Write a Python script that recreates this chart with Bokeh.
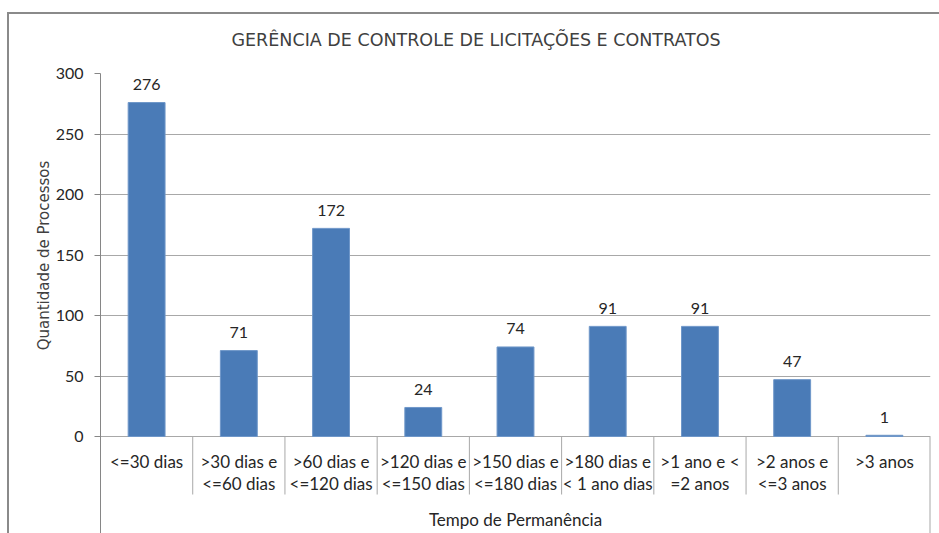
import math
from bokeh.plotting import figure
from bokeh.models import FactorRange, Range1d, FixedTicker, Label
from bokeh.core.properties import value
from bokeh.embed import file_html
from bokeh.resources import INLINE

# ---- data ----
title_text = "GERÊNCIA DE CONTROLE DE LICITAÇÕES E CONTRATOS"
y_label = "Quantidade de Processos"
x_label = "Tempo de Permanência"
label_line1 = ["<=30 dias", ">30 dias e", ">60 dias e", ">120 dias e", ">150 dias e",
               ">180 dias e", ">1 ano e <", ">2 anos e", ">3 anos"]
label_line2 = ["", "<=60 dias", "<=120 dias", "<=150 dias", "<=180 dias",
               "< 1 ano dias", "=2 anos", "<=3 anos", ""]
categories = [a + ("\u00a0" + b if b else "") for a, b in zip(label_line1, label_line2)]
values = [276, 71, 172, 24, 74, 91, 91, 47, 1]
y_ticks = [0, 50, 100, 150, 200, 250, 300]

# ---- layout constants (pixels) ----
W, H = 939, 533
frame_left, frame_right = 100, 930
frame_top, zero_px = 73, 436          # canvas y of 300 and of 0
px_per_unit = (zero_px - frame_top) / 300.0
y_bottom = -(H - zero_px) / px_per_unit

BAR = "#4a7bb7"
TXT = "#262626"
AXC = "#868686"
GRID = "#a8a8a8"
BORDER = "#8a8a8a"
SANS = "Lato"
GOTH = "DejaVu Sans"

p = figure(width=W, height=H, x_range=FactorRange(*categories, range_padding=0),
           y_range=Range1d(y_bottom, 300), x_axis_location=None,
           output_backend="svg", toolbar_location=None,
           min_border_left=frame_left, min_border_right=W - frame_right,
           min_border_top=frame_top, min_border_bottom=0)
p.outline_line_color = None
p.background_fill_color = "white"
p.border_fill_color = None
p.styles = {
    "background": (f"linear-gradient({BORDER},{BORDER}) 7px 12px / 2px 100% no-repeat, "
                   f"linear-gradient({BORDER},{BORDER}) 7px 12px / 100% 2px no-repeat, white"),
}

# title
p.title.text = title_text
p.title.align = "left"
p.title.offset = 131
p.title.standoff = 48
p.title.text_font = GOTH
p.title.text_font_size = "17.5px"
p.title.text_font_style = "normal"
p.title.text_color = "#404040"

# y axis
ya = p.yaxis[0]
ya.ticker = FixedTicker(ticks=y_ticks)
ya.axis_line_color = AXC
ya.major_tick_line_color = AXC
ya.major_tick_out = 6
ya.major_tick_in = 0
ya.minor_tick_line_color = None
ya.major_label_text_font = SANS
ya.major_label_text_font_size = "16px"
ya.major_label_text_color = TXT
ya.major_label_standoff = 11
p.xgrid.grid_line_color = None
p.ygrid.grid_line_color = GRID
p.ygrid.ticker = FixedTicker(ticks=y_ticks)

# bars
p.vbar(x=categories, top=values, width=0.4, fill_color=BAR, line_color="#6f97c9", line_width=1)

# value labels
p.text(x=categories, y=values, text=[str(v) for v in values], text_align="center",
       text_baseline="alphabetic", y_offset=-18, text_font=value(SANS),
       text_font_size="16px", text_color=TXT)

# category labels (table-like axis)
p.text(x=categories, y=[0] * len(categories), text=label_line1, text_align="center",
       text_baseline="middle", y_offset=25, text_font=value(SANS),
       text_font_size="17px", text_color=TXT)
p.text(x=categories, y=[0] * len(categories), text=label_line2, text_align="center",
       text_baseline="middle", y_offset=47, text_font=value(SANS),
       text_font_size="17px", text_color=TXT)

# separators
sep_x = [(c, -0.5) for c in categories[1:]]
sep_end = -(494 - zero_px) / px_per_unit
p.segment(x0=sep_x, y0=[0] * len(sep_x), x1=sep_x, y1=[sep_end] * len(sep_x),
          line_color=GRID, line_width=1)
p.segment(x0=[(categories[-1], 0.5)], y0=[0], x1=[(categories[-1], 0.5)], y1=[y_bottom],
          line_color=GRID, line_width=2)

# axis titles
p.add_layout(Label(x=43, y=255, x_units="canvas", y_units="canvas", text=y_label,
                   angle=math.pi / 2, text_align="center", text_baseline="middle",
                   text_font=GOTH, text_font_size="15px", text_color="#404040"), "left")
p.add_layout(Label(x=515, y=519, x_units="canvas", y_units="canvas", text=x_label,
                   text_align="center", text_baseline="middle", text_font=SANS,
                   text_font_size="17px", text_color=TXT))

open("out.html", "w").write(file_html(p, INLINE))
